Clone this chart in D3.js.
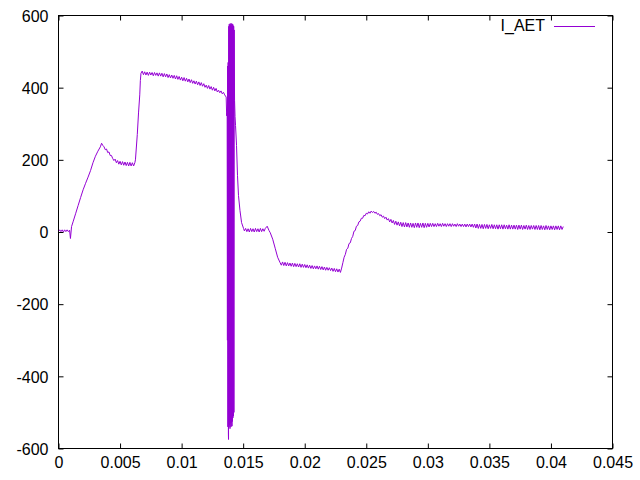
<!DOCTYPE html>
<html>
<head>
<meta charset="utf-8">
<script src="https://cdn.jsdelivr.net/npm/d3@7"></script>
<style>
  html, body { margin: 0; padding: 0; background: #fff; }
  svg { display: block; }
  text { font-family: "Liberation Sans", Arial, sans-serif; font-size: 16px; fill: #000; }
</style>
</head>
<body>
<svg id="chart" width="640" height="480"></svg>
<script>
// ---- data: [time (s), current] ----
const seriesName = "I_AET";
const xTicks = [0, 0.005, 0.01, 0.015, 0.02, 0.025, 0.03, 0.035, 0.04, 0.045];
const xTickLabels = ["0", "0.005", "0.01", "0.015", "0.02", "0.025", "0.03", "0.035", "0.04", "0.045"];
const yTicks = [-600, -400, -200, 0, 200, 400, 600];
const yTickLabels = ["-600", "-400", "-200", "0", "200", "400", "600"];

const startSamples = [
  [0, 2], [0.0001, 6], [0.0002, 1], [0.0003, 6], [0.0004, 0], [0.0005, 6], [0.0006, 1], [0.0007, 6],
  [0.0008, 1], [0.0009, 5], [0.00097, -18], [0.00106, 15],
  [0.0012, 30], [0.0014, 52], [0.0016, 74], [0.0018, 96], [0.002, 117], [0.0022, 135], [0.0024, 152],
  [0.0026, 170], [0.0028, 192], [0.003, 210], [0.0032, 224], [0.0034, 236], [0.0035, 246], [0.0036, 240],
  [0.0037, 236], [0.0038, 228], [0.0039, 230], [0.004, 220], [0.0041, 222], [0.0042, 212], [0.0043, 212],
  [0.0044, 204], [0.0045, 198], [0.0046, 202], [0.0047, 192], [0.0048, 198], [0.0049, 188], [0.005, 196],
  [0.0051, 186], [0.0052, 195], [0.0053, 185], [0.0054, 194], [0.0055, 184], [0.0056, 193], [0.0057, 183],
  [0.0058, 193], [0.0059, 183], [0.006, 192], [0.0061, 183], [0.0062, 192],
  [0.00625, 200], [0.0064, 270], [0.0065, 330], [0.0066, 380], [0.00665, 420], [0.0067, 440], [0.0068, 446]
];

const plateauSamples = [
  [0.0069, 436], [0.007, 444], [0.0071, 435], [0.0072, 443], [0.0073, 434], [0.0074, 443], [0.0075, 435],
  [0.0076, 442], [0.0077, 433], [0.0078, 442], [0.0079, 434], [0.008, 441], [0.0081, 432], [0.0082, 441],
  [0.0083, 432], [0.0084, 440], [0.0085, 430], [0.0086, 439], [0.0087, 430], [0.0088, 438], [0.0089, 428],
  [0.009, 436], [0.0091, 427], [0.0092, 435], [0.0093, 426], [0.0094, 434], [0.0095, 424], [0.0096, 433],
  [0.0097, 423], [0.0098, 431], [0.0099, 421], [0.01, 429], [0.0101, 419], [0.0102, 428], [0.0103, 418],
  [0.0104, 426], [0.0105, 416], [0.0106, 424], [0.0107, 414], [0.0108, 422], [0.0109, 412], [0.011, 419],
  [0.0111, 410], [0.0112, 418], [0.0113, 408], [0.0114, 416], [0.0115, 406], [0.0116, 414], [0.0117, 404],
  [0.0118, 411], [0.0119, 401], [0.012, 407], [0.0121, 398], [0.0122, 406], [0.0123, 396], [0.0124, 403],
  [0.0125, 393], [0.0126, 401], [0.0127, 391], [0.0128, 398], [0.0129, 388], [0.013, 393], [0.0131, 386],
  [0.0132, 391], [0.0133, 383], [0.0134, 387], [0.0135, 380], [0.01362, 374], [0.01366, 322], [0.0137, 330]
];

const spikeSamples = [
  [0.01372, -300], [0.01374, 460], [0.01376, -540], [0.01378, 470], [0.0138, -560], [0.01381, -575],
  [0.01383, 570], [0.01385, -540], [0.01387, 576], [0.01389, -535], [0.01391, 572], [0.01393, -545],
  [0.01395, 578], [0.01397, -530], [0.01399, 574], [0.01401, -540], [0.01403, 570], [0.01405, -528],
  [0.01407, 578], [0.01409, -538], [0.01411, 574], [0.01413, -525], [0.01415, 576], [0.01417, -515],
  [0.01419, 572], [0.01421, -510], [0.01423, 570], [0.01425, -500], [0.01427, 560], [0.0143, 365],
  [0.01434, 320], [0.01438, 295], [0.01446, 240], [0.01454, 156], [0.01462, 101], [0.01474, 60],
  [0.01487, 26], [0.01503, 10]
];

const middleSamples = [
  [0.0151, 3], [0.0152, 10], [0.0153, 1], [0.0154, 9], [0.0155, 0], [0.0156, 10], [0.0157, 1], [0.0158, 9],
  [0.0159, 0], [0.016, 10], [0.0161, 1], [0.0162, 9], [0.0163, 0], [0.0164, 10], [0.0165, 1], [0.0166, 9],
  [0.0167, 2], [0.0168, 10], [0.01695, 16], [0.0171, 4], [0.0172, -2],
  [0.0174, -20], [0.0176, -45], [0.0178, -70],
  [0.018, -85], [0.0181, -92], [0.0182, -83], [0.0183, -93], [0.0184, -84], [0.0185, -94], [0.0186, -85],
  [0.0187, -94], [0.0188, -86], [0.0189, -95], [0.019, -86], [0.0191, -96], [0.0192, -87], [0.0193, -96],
  [0.0194, -88], [0.0195, -97], [0.0196, -88], [0.0197, -98], [0.0198, -89], [0.0199, -98], [0.02, -90],
  [0.0201, -99], [0.0202, -91], [0.0203, -100], [0.0204, -92], [0.0205, -101], [0.0206, -93], [0.0207, -102],
  [0.0208, -94], [0.0209, -102], [0.021, -94], [0.0211, -103], [0.0212, -95], [0.0213, -104], [0.0214, -96],
  [0.0215, -105], [0.0216, -97], [0.0217, -106], [0.0218, -98], [0.0219, -106], [0.022, -99], [0.0221, -107],
  [0.0222, -100], [0.0223, -109], [0.0224, -101], [0.0225, -110], [0.0226, -102], [0.0227, -111],
  [0.0228, -103], [0.0229, -112],
  [0.023, -100], [0.0231, -85], [0.0232, -70], [0.0233, -62], [0.0234, -48], [0.0235, -45], [0.0236, -32],
  [0.0237, -30], [0.0238, -18], [0.0239, -12], [0.024, 2], [0.0241, 4], [0.0242, 16], [0.0243, 18],
  [0.0244, 28], [0.0245, 30], [0.0246, 38], [0.0247, 38], [0.0248, 46], [0.0249, 45], [0.025, 52],
  [0.0251, 50], [0.0252, 56], [0.0253, 52], [0.0254, 58], [0.0255, 54], [0.0256, 57], [0.0257, 52],
  [0.0258, 55], [0.0259, 49], [0.026, 51], [0.0261, 45], [0.0262, 48], [0.0263, 41], [0.0264, 44],
  [0.0265, 37], [0.0266, 41], [0.0267, 33], [0.0268, 37], [0.0269, 28], [0.027, 35], [0.0271, 25],
  [0.0272, 32], [0.0273, 21], [0.0274, 30], [0.0275, 19], [0.0276, 28], [0.0277, 17], [0.0278, 27],
  [0.0279, 15], [0.028, 26], [0.0281, 14], [0.0282, 26]
];

const tailSamples = [
  [0.0283, 14], [0.0284, 25], [0.0285, 13], [0.0286, 25], [0.0287, 13], [0.0288, 24], [0.0289, 12],
  [0.029, 25], [0.0291, 13], [0.0292, 25], [0.0293, 12], [0.0294, 24], [0.0295, 13], [0.0296, 25],
  [0.0297, 12], [0.0298, 24], [0.0299, 13], [0.03, 24], [0.0301, 14], [0.0302, 24], [0.0303, 15],
  [0.0304, 24], [0.0305, 15], [0.0306, 23], [0.0307, 15], [0.0308, 24], [0.0309, 16], [0.031, 23],
  [0.0311, 15], [0.0312, 24], [0.0313, 16], [0.0314, 23], [0.0315, 15], [0.0316, 23], [0.0317, 16],
  [0.0318, 23], [0.0319, 15], [0.032, 23], [0.0321, 16], [0.0322, 22], [0.0323, 15], [0.0324, 23],
  [0.0325, 16], [0.0326, 22], [0.0327, 15], [0.0328, 22], [0.0329, 15], [0.033, 22], [0.0331, 14],
  [0.0332, 22], [0.0333, 15], [0.0334, 22], [0.0335, 14], [0.0336, 22], [0.0337, 13], [0.0338, 22],
  [0.0339, 11], [0.034, 22], [0.0341, 10], [0.0342, 21], [0.0343, 10], [0.0344, 21], [0.0345, 9],
  [0.0346, 21], [0.0347, 10], [0.0348, 21], [0.0349, 9], [0.035, 20], [0.0351, 10], [0.0352, 21],
  [0.0353, 9], [0.0354, 20], [0.0355, 9], [0.0356, 20], [0.0357, 8], [0.0358, 20], [0.0359, 9],
  [0.036, 20], [0.0361, 8], [0.0362, 20], [0.0363, 9], [0.0364, 19], [0.0365, 8], [0.0366, 20],
  [0.0367, 8], [0.0368, 19], [0.0369, 8], [0.037, 19], [0.0371, 8], [0.0372, 19], [0.0373, 7],
  [0.0374, 19], [0.0375, 8], [0.0376, 19], [0.0377, 7], [0.0378, 18], [0.0379, 8], [0.038, 19],
  [0.0381, 7], [0.0382, 18], [0.0383, 7], [0.0384, 18], [0.0385, 8], [0.0386, 18], [0.0387, 7],
  [0.0388, 18], [0.0389, 7], [0.039, 18], [0.0391, 6], [0.0392, 18], [0.0393, 7], [0.0394, 17],
  [0.0395, 6], [0.0396, 18], [0.0397, 7], [0.0398, 17], [0.0399, 6], [0.04, 17], [0.0401, 7],
  [0.0402, 17], [0.0403, 6], [0.0404, 17], [0.0405, 7], [0.0406, 17], [0.0407, 6], [0.0408, 17],
  [0.0409, 7], [0.041, 15]
];

const samples = [].concat(startSamples, plateauSamples, spikeSamples, middleSamples, tailSamples);

// ---- layout ----
const pLeft = 58.5, pRight = 612.5, pTop = 15.5, pBottom = 448.5;
const lineColor = "#9400d3";

const svg = d3.select("#chart");
const x = d3.scaleLinear().domain([0, 0.045]).range([pLeft, pRight]);
const y = d3.scaleLinear().domain([-600, 600]).range([pBottom, pTop]);

const tickLen = 5;

// bottom axis
const xAxis = d3.axisBottom(x).tickValues(xTicks)
  .tickFormat((d, i) => xTickLabels[i]).tickSizeInner(-tickLen).tickSizeOuter(0);
const gx = svg.append("g").attr("transform", `translate(0,${pBottom})`).call(xAxis);
gx.select(".domain").remove();
gx.attr("font-family", null).attr("font-size", null);
gx.selectAll("text").attr("y", 19).attr("dy", null);

// top mirror ticks
const xAxisTop = d3.axisTop(x).tickValues(xTicks).tickFormat("").tickSizeInner(-tickLen).tickSizeOuter(0);
const gxt = svg.append("g").attr("transform", `translate(0,${pTop})`).call(xAxisTop);
gxt.select(".domain").remove();

// left axis
const yAxis = d3.axisLeft(y).tickValues(yTicks)
  .tickFormat((d, i) => yTickLabels[i]).tickSizeInner(-tickLen).tickSizeOuter(0);
const gy = svg.append("g").attr("transform", `translate(${pLeft},0)`).call(yAxis);
gy.select(".domain").remove();
gy.attr("font-family", null).attr("font-size", null);
gy.selectAll("text").attr("x", -10).attr("dy", "0.36em");

// right mirror ticks
const yAxisRight = d3.axisRight(y).tickValues(yTicks).tickFormat("").tickSizeInner(-tickLen).tickSizeOuter(0);
const gyr = svg.append("g").attr("transform", `translate(${pRight},0)`).call(yAxisRight);
gyr.select(".domain").remove();

// border
svg.append("rect").attr("x", pLeft).attr("y", pTop)
  .attr("width", pRight - pLeft).attr("height", pBottom - pTop)
  .attr("fill", "none").attr("stroke", "#000").attr("stroke-width", 1);

// clip
svg.append("clipPath").attr("id", "clip").append("rect")
  .attr("x", pLeft).attr("y", pTop).attr("width", pRight - pLeft).attr("height", pBottom - pTop);

const line = d3.line().x(d => x(d[0])).y(d => y(d[1]));
svg.append("path").datum(samples)
  .attr("clip-path", "url(#clip)")
  .attr("d", line).attr("fill", "none")
  .attr("stroke", lineColor).attr("stroke-width", 1);

// legend
svg.append("text").attr("x", 545).attr("y", 31).attr("text-anchor", "end").text(seriesName);
svg.append("line").attr("x1", 554).attr("x2", 595).attr("y1", 26.5).attr("y2", 26.5)
  .attr("stroke", lineColor).attr("stroke-width", 1);
</script>
</body>
</html>
